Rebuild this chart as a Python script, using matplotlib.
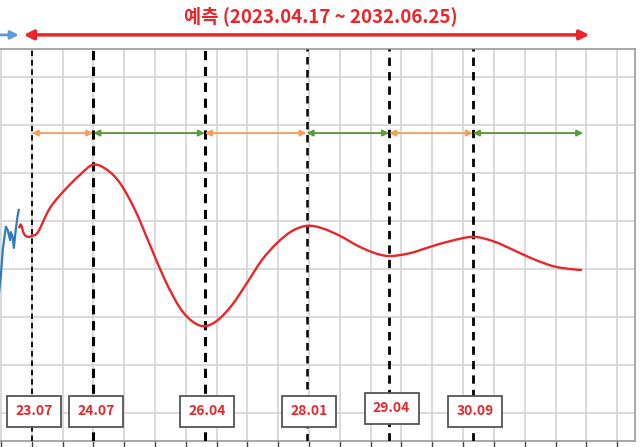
import numpy as np
import matplotlib.pyplot as plt
from matplotlib.ticker import MultipleLocator
from matplotlib.path import Path
from matplotlib.patches import PathPatch

plt.rcParams['font.family'] = ['Noto Sans CJK KR', 'DejaVu Sans']

# 실제 지수 (연도 소수 표기)
hist_x = np.array([2022.96, 2023.00, 2023.03, 2023.08, 2023.11, 2023.15, 2023.16,
                   2023.19, 2023.21, 2023.24, 2023.27, 2023.29])
hist_y = np.array([2.40, 2.88, 3.40, 3.88, 3.81, 3.60, 3.77, 3.67, 3.44, 3.81, 4.10, 4.23])

# 예측 곡선
pred_x = np.array([2023.293, 2023.326, 2023.375, 2023.440, 2023.504, 2023.602,
                   2023.796, 2024.040, 2024.283, 2024.494, 2024.705, 2024.932,
                   2025.176, 2025.419, 2025.663, 2025.906, 2026.117, 2026.312,
                   2026.523, 2026.750, 2026.993, 2027.237, 2027.480, 2027.724,
                   2027.967, 2028.210, 2028.503, 2028.795, 2029.071, 2029.314,
                   2029.638, 2029.963, 2030.288, 2030.661, 2030.985, 2031.310,
                   2031.635, 2031.959, 2032.235, 2032.430])
pred_y = np.array([3.85, 3.92, 3.73, 3.67, 3.69, 3.77,
                   4.27, 4.65, 4.96, 5.17, 5.08, 4.79,
                   4.23, 3.50, 2.77, 2.19, 1.90, 1.81,
                   1.94, 2.25, 2.71, 3.19, 3.54, 3.79,
                   3.90, 3.85, 3.69, 3.48, 3.33, 3.27,
                   3.33, 3.46, 3.58, 3.67, 3.58, 3.40,
                   3.21, 3.06, 3.00, 2.98])

# 변곡 시점
event_x = [2023.50, 2024.50, 2026.31, 2027.96, 2029.30, 2030.66]
event_labels = ['23.07', '24.07', '26.04', '28.01', '29.04', '30.09']
event_lw = [1.3, 2.2, 2.2, 1.8, 2.0, 2.0]
pred_start, pred_end = 2023.29, 2032.55
range_end = 2032.45


def smooth_path(x, y):
    # 엑셀식 부드러운 선 (Catmull-Rom -> 베지어)
    pts = np.column_stack([x, y])
    verts = [pts[0]]
    codes = [Path.MOVETO]
    n = len(pts)
    for i in range(n - 1):
        p0 = pts[max(i - 1, 0)]
        p1 = pts[i]
        p2 = pts[i + 1]
        p3 = pts[min(i + 2, n - 1)]
        verts += [p1 + (p2 - p0) / 6, p2 - (p3 - p1) / 6, p2]
        codes += [Path.CURVE4] * 3
    return Path(verts, codes)


fig = plt.figure(figsize=(6.4, 4.47), dpi=100)
ax = fig.add_axes([0.0, 6 / 447, 635 / 640, 392 / 447])

ax.set_xlim(2022.985, 2033.29)
ax.set_ylim(-0.58, 7.58)
ax.xaxis.set_major_locator(MultipleLocator(0.5))
ax.yaxis.set_major_locator(MultipleLocator(1))
ax.grid(True, color='#d4d4d4', lw=1.2)
ax.set_axisbelow(True)
ax.tick_params(axis='x', direction='out', length=6, width=1, color='#444444',
               labelbottom=False)
ax.tick_params(axis='y', length=0, labelleft=False)
for side in ['top', 'right', 'bottom', 'left']:
    ax.spines[side].set_color('#9a9a9a')
    ax.spines[side].set_linewidth(1.2)
ax.spines['left'].set_visible(False)

for x, lw in zip(event_x, event_lw):
    ax.axvline(x, color='black', ls=(0, (3, 2.2)), lw=lw, zorder=3)

ax.plot(hist_x, hist_y, color='#2f7bbf', lw=1.6, zorder=4)
ax.add_patch(PathPatch(smooth_path(pred_x, pred_y), fc='none', ec='#e8262b',
                       lw=1.7, zorder=4))

# 구간 화살표
seg_x = event_x + [range_end]
seg_colors = ['#f4a05a', '#5e9a3a']
for i in range(len(seg_x) - 1):
    ax.annotate('', xy=(seg_x[i + 1], 5.83), xytext=(seg_x[i], 5.83),
                arrowprops=dict(arrowstyle='<|-|>', color=seg_colors[i % 2], lw=1.4,
                                mutation_scale=9, shrinkA=0, shrinkB=0), zorder=5)

# 날짜 라벨 상자
for i, (x, lab) in enumerate(zip(event_x, event_labels)):
    yy = 0.04 if i != 4 else 0.1
    ax.text(x + 0.04, yy, lab, color='#e8262b', fontsize=10, fontweight='bold',
            ha='center', va='center', zorder=6,
            bbox=dict(boxstyle='square,pad=0.6', fc='white', ec='#555555', lw=1.3))

# 상단 예측 기간 화살표
tr = ax.get_xaxis_transform()
ax.annotate('', xy=(pred_start, 1.036), xytext=(2022.9, 1.036), xycoords=tr,
            arrowprops=dict(arrowstyle='-|>', color='#5b9bd5', lw=2, mutation_scale=12,
                            shrinkA=0, shrinkB=0), annotation_clip=False)
ax.annotate('', xy=(pred_end, 1.036), xytext=(pred_start + 0.08, 1.036), xycoords=tr,
            arrowprops=dict(arrowstyle='<|-|>', color='#e8262b', lw=2.5, mutation_scale=14,
                            shrinkA=0, shrinkB=0), annotation_clip=False)

fig.text(321 / 640, 1 - 16 / 447, '예측 (2023.04.17 ~ 2032.06.25)', color='#e8262b',
         fontsize=13.5, fontweight='bold', ha='center', va='center')

fig.savefig('out.png', dpi=100)
